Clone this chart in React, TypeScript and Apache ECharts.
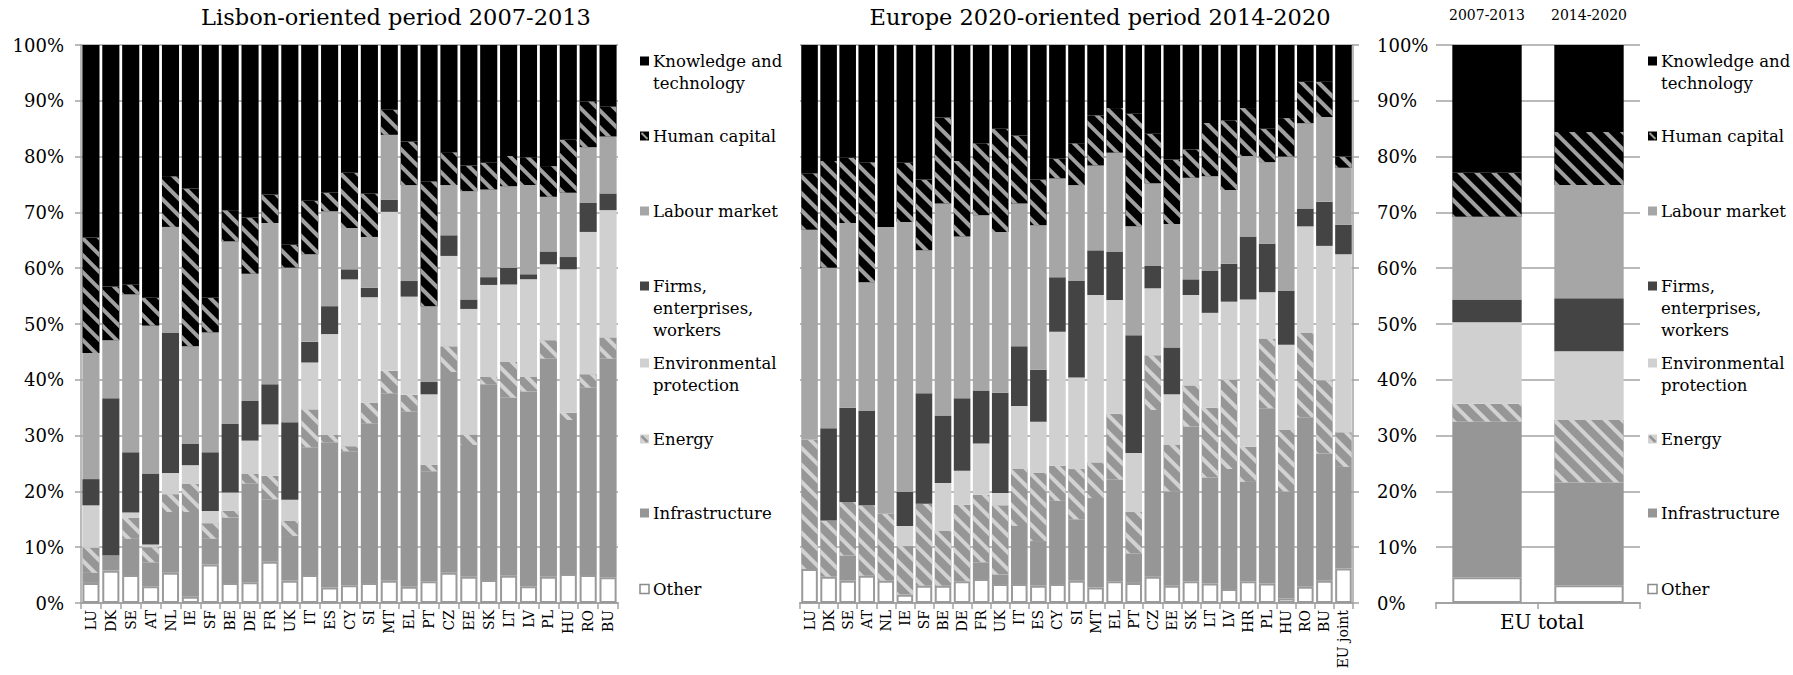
import React, { useEffect, useRef } from "react";
import * as echarts from "echarts";

// ---------- DATA ----------
const SERIES_NAMES = [
  "Other",
  "Infrastructure",
  "Energy",
  "Environmental protection",
  "Firms, enterprises, workers",
  "Labour market",
  "Human capital",
  "Knowledge and technology",
];
const LEGEND_LINES: string[][] = [
  ["Other"],
  ["Infrastructure"],
  ["Energy"],
  ["Environmental", "protection"],
  ["Firms,", "enterprises,", "workers"],
  ["Labour market"],
  ["Human capital"],
  ["Knowledge and", "technology"],
];

const TITLE_LEFT = "Lisbon-oriented period 2007-2013";
const TITLE_MID = "Europe 2020-oriented period 2014-2020";
const EU_TOTAL_LABEL = "EU total";

const Y_TICKS = [0, 10, 20, 30, 40, 50, 60, 70, 80, 90, 100];

const LISBON_COUNTRIES = ["LU","DK","SE","AT","NL","IE","SF","BE","DE","FR","UK","IT","ES","CY","SI","MT","EL","PT","CZ","EE","SK","LT","LV","PL","HU","RO","BU"];
const LISBON_OTHER = [3.6,5.8,5.0,3.0,5.4,1.1,6.9,3.6,3.7,7.4,4.0,5.0,2.8,3.2,3.6,4.0,2.9,3.9,5.4,4.7,4.1,4.9,3.0,4.7,5.2,5.0,4.6];
const LISBON_INFRA = [1.8,2.7,6.5,4.3,10.9,15.2,4.6,11.7,17.7,11.2,8.0,22.9,26.0,24.0,28.6,33.6,31.4,19.7,36.0,23.6,35.1,31.9,34.9,39.1,27.6,33.6,39.2];
const LISBON_ENERGY = [4.5,0,3.8,2.7,3.2,5.1,2.8,1.2,1.8,4.2,2.7,6.8,1.3,0.9,3.7,4.0,3.0,1.2,4.6,1.9,1.3,6.4,2.6,3.3,1.3,2.4,3.8];
const LISBON_ENV = [7.6,0,0.9,0.5,3.8,3.3,2.2,3.3,5.9,9.2,3.8,8.4,18.1,29.9,18.9,28.5,17.6,12.6,16.2,22.5,16.5,13.9,17.5,13.6,25.7,25.5,22.8];
const LISBON_FIRMS = [4.7,28.2,10.8,12.7,25.1,3.8,10.5,12.3,7.1,7.2,13.9,3.7,5.0,1.8,1.7,2.2,2.8,2.2,3.7,1.7,1.4,3.0,0.9,2.3,2.2,5.2,3.0];
const LISBON_LABOUR = [22.6,10.4,28.3,26.5,19.0,17.5,21.5,32.7,22.8,28.9,27.7,15.7,17.0,7.4,9.1,11.6,17.2,13.6,9.0,19.4,15.7,14.6,16.0,9.8,11.5,10.0,10.2];
const LISBON_HUMAN = [20.7,9.6,1.8,5.0,9.1,28.3,6.2,5.6,10.1,5.1,4.1,9.6,3.3,9.9,7.8,4.5,7.8,22.4,5.9,4.6,4.8,5.4,5.0,5.5,9.5,8.2,5.4];
const LISBON_KNOW = [34.5,43.3,42.9,45.3,23.5,25.7,45.3,29.6,30.9,26.8,35.8,27.9,26.5,22.9,26.6,11.6,17.3,24.4,19.2,21.6,21.1,19.9,20.1,21.7,17.0,10.1,11.0];

const E2020_COUNTRIES = ["LU","DK","SE","AT","NL","IE","SF","BE","DE","FR","UK","IT","ES","CY","SI","MT","EL","PT","CZ","EE","SK","LT","LV","HR","PL","HU","RO","BU","EU joint"];
const E2020_OTHER = [6.1,4.7,4.0,4.9,4.0,1.5,3.1,3.1,3.9,4.3,3.4,3.4,3.1,3.4,4.0,2.8,3.9,3.6,4.7,3.1,3.9,3.5,2.5,3.9,3.5,0.8,2.9,4.0,6.2];
const E2020_INFRA = [0,0,4.5,0,0,0,0,0,0,3.0,1.7,10.4,8.0,14.9,11.0,16.0,18.2,5.3,29.9,16.9,27.7,19.0,21.5,17.8,31.4,19.2,30.4,22.8,18.2];
const E2020_ENERGY = [23.2,10.1,9.6,12.6,12.0,8.7,14.7,9.8,13.7,12.1,12.4,10.2,12.2,6.3,9.0,6.4,11.8,7.4,9.8,8.4,7.4,12.5,16.0,6.3,12.5,11.0,15.1,13.1,6.2];
const E2020_ENV = [0,0,0,0,0,3.6,0,8.6,6.1,9.2,2.2,11.3,9.2,24.0,16.4,30.0,20.4,10.6,12.0,9.0,16.2,17.0,14.0,26.4,8.3,15.3,19.1,24.1,31.9];
const E2020_FIRMS = [0,16.5,16.9,16.9,0,6.1,19.8,12.1,13.0,9.5,18.0,10.7,9.3,9.8,17.3,8.0,8.6,21.1,4.0,8.4,2.8,7.5,6.8,11.3,8.7,9.6,3.2,7.9,5.3];
const E2020_LABOUR = [37.6,28.8,33.1,23.1,51.4,48.4,25.6,38.0,29.0,31.4,28.8,25.6,25.9,17.7,17.2,15.2,17.8,19.5,14.8,22.1,18.2,17.0,13.2,14.4,14.6,24.1,15.3,15.2,10.2];
const E2020_HUMAN = [10.1,19.1,11.7,21.5,0,10.6,12.7,15.4,13.5,12.9,18.5,12.2,8.2,3.5,7.5,9.0,8.0,20.2,8.9,11.6,5.1,9.5,12.5,8.6,6.0,6.9,7.4,6.3,2.0];
const E2020_KNOW = [23.0,20.8,20.2,21.0,32.6,21.1,24.1,13.0,20.8,17.6,15.0,16.2,24.1,20.4,17.6,12.6,11.3,12.3,15.9,20.5,18.7,14.0,13.5,11.3,15.0,13.1,6.6,6.6,20.0];

const EU_PERIODS = ["2007-2013", "2014-2020"];
const EU_OTHER = [4.6, 3.2];
const EU_INFRA = [27.9, 18.4];
const EU_ENERGY = [3.2, 11.2];
const EU_ENV = [14.6, 12.3];
const EU_FIRMS = [4.1, 9.5];
const EU_LABOUR = [14.8, 20.3];
const EU_HUMAN = [7.9, 9.5];
const EU_KNOW = [22.9, 15.6];

const LISBON_SERIES = [LISBON_OTHER, LISBON_INFRA, LISBON_ENERGY, LISBON_ENV, LISBON_FIRMS, LISBON_LABOUR, LISBON_HUMAN, LISBON_KNOW];
const E2020_SERIES = [E2020_OTHER, E2020_INFRA, E2020_ENERGY, E2020_ENV, E2020_FIRMS, E2020_LABOUR, E2020_HUMAN, E2020_KNOW];
const EU_SERIES = [EU_OTHER, EU_INFRA, EU_ENERGY, EU_ENV, EU_FIRMS, EU_LABOUR, EU_HUMAN, EU_KNOW];

// ---------- STYLE ----------
const FONT = "DejaVu Serif";
const GRID_GRAY = "#a3a3a3";

const itemStyles: any[] = [
  { color: "#ffffff", borderColor: "#9a9a9a", borderWidth: 2 },
  { color: "#969696" },
  {
    color: "#969696",
    decal: { symbol: "rect", symbolSize: 1, dashArrayX: [1, 0], dashArrayY: [4, 7.5], rotation: Math.PI / 4, color: "#d2d2d2" },
  },
  { color: "#d0d0d0" },
  { color: "#444444" },
  { color: "#a6a6a6" },
  {
    color: "#000000",
    decal: { symbol: "rect", symbolSize: 1, dashArrayX: [1, 0], dashArrayY: [3.5, 8], rotation: Math.PI / 4, color: "#a0a0a0" },
  },
  { color: "#000000" },
];

const PLOT_TOP = 45;
const PLOT_H = 558;

function buildOption() {
  const grids = [
    { left: 81, top: PLOT_TOP, width: 537, height: PLOT_H },
    { left: 800, top: PLOT_TOP, width: 553, height: PLOT_H },
    { left: 1436, top: PLOT_TOP, width: 204, height: PLOT_H },
  ];

  const catAxisBase = {
    type: "category",
    axisLine: { show: true, lineStyle: { color: GRID_GRAY, width: 2 } },
    axisTick: { show: true, length: 6, lineStyle: { color: GRID_GRAY, width: 1.5 } },
  };

  const xAxis: any[] = [
    {
      ...catAxisBase,
      gridIndex: 0,
      data: LISBON_COUNTRIES,
      axisLabel: { rotate: 90, interval: 0, fontFamily: FONT, fontSize: 14, color: "#000", margin: 7 },
    },
    {
      ...catAxisBase,
      gridIndex: 1,
      data: E2020_COUNTRIES,
      axisLabel: { rotate: 90, interval: 0, fontFamily: FONT, fontSize: 14, color: "#000", margin: 7 },
    },
    {
      ...catAxisBase,
      gridIndex: 2,
      data: EU_PERIODS,
      axisLabel: { show: false },
    },
    {
      type: "category",
      gridIndex: 2,
      position: "top",
      data: EU_PERIODS,
      axisLine: { show: false },
      axisTick: { show: false },
      axisLabel: { interval: 0, fontFamily: FONT, fontSize: 14, color: "#000", margin: 23 },
    },
  ];

  const valAxisBase = {
    type: "value",
    min: Y_TICKS[0],
    max: Y_TICKS[Y_TICKS.length - 1],
    interval: Y_TICKS[1] - Y_TICKS[0],
    splitLine: { show: true, lineStyle: { color: GRID_GRAY, width: 1.5 } },
  };

  const yAxis: any[] = [
    {
      ...valAxisBase,
      gridIndex: 0,
      position: "left",
      axisLine: { show: true, lineStyle: { color: GRID_GRAY, width: 1.5 } },
      axisTick: { show: true, length: 6, lineStyle: { color: GRID_GRAY, width: 1.5 } },
      axisLabel: { formatter: "{value}%", fontFamily: FONT, fontSize: 18, color: "#000", margin: 17 },
    },
    {
      ...valAxisBase,
      gridIndex: 1,
      position: "right",
      axisLine: { show: true, lineStyle: { color: GRID_GRAY, width: 1.5 } },
      axisTick: { show: true, length: 6, lineStyle: { color: GRID_GRAY, width: 1.5 } },
      axisLabel: { formatter: "{value}%", fontFamily: FONT, fontSize: 18, color: "#000", margin: 24 },
    },
    {
      ...valAxisBase,
      gridIndex: 2,
      position: "left",
      axisLine: { show: false },
      axisTick: { show: false },
      axisLabel: { show: false },
    },
  ];

  const series: any[] = [];
  const panels = [
    { data: LISBON_SERIES, barWidth: "86%" },
    { data: E2020_SERIES, barWidth: "87%" },
    { data: EU_SERIES, barWidth: "68%" },
  ];
  panels.forEach((p, pi) => {
    p.data.forEach((vals, si) => {
      series.push({
        type: "bar",
        name: SERIES_NAMES[si],
        stack: "panel" + pi,
        xAxisIndex: pi,
        yAxisIndex: pi,
        barWidth: p.barWidth,
        data: vals,
        itemStyle: itemStyles[si],
        emphasis: { disabled: true },
      });
    });
  });

  // Legends (drawn as graphics, top-to-bottom order = reversed stack)
  const legendSlotsY = [61, 136, 211, 286, 363, 439, 513, 589];
  const graphic: any[] = [];
  const legendXs = [
    { sq: 640, tx: 653 },
    { sq: 1648, tx: 1661 },
  ];
  legendXs.forEach((lx) => {
    for (let k = 0; k < SERIES_NAMES.length; k++) {
      const si = SERIES_NAMES.length - 1 - k;
      const y = legendSlotsY[k];
      const st = itemStyles[si];
      const sqSize = 9;
      const sy = y - 4.5;
      if (si === 0) {
        graphic.push({ type: "rect", shape: { x: lx.sq, y: sy, width: sqSize, height: sqSize }, style: { fill: "#fff", stroke: "#8a8a8a", lineWidth: 1.5 } });
      } else if (si === 2) {
        graphic.push({ type: "rect", shape: { x: lx.sq, y: sy, width: sqSize, height: sqSize }, style: { fill: "#d2d2d2" } });
        graphic.push({ type: "line", shape: { x1: lx.sq + 1.5, y1: sy + 1.5, x2: lx.sq + sqSize - 1.5, y2: sy + sqSize - 1.5 }, style: { stroke: "#969696", lineWidth: 2.5 } });
      } else if (si === 6) {
        graphic.push({ type: "rect", shape: { x: lx.sq, y: sy, width: sqSize, height: sqSize }, style: { fill: "#000" } });
        graphic.push({ type: "line", shape: { x1: lx.sq + 1.5, y1: sy + 1.5, x2: lx.sq + sqSize - 1.5, y2: sy + sqSize - 1.5 }, style: { stroke: "#a0a0a0", lineWidth: 2 } });
      } else {
        graphic.push({ type: "rect", shape: { x: lx.sq, y: sy, width: sqSize, height: sqSize }, style: { fill: st.color } });
      }
      graphic.push({
        type: "text",
        x: lx.tx,
        y: y - 11,
        style: {
          text: LEGEND_LINES[si].join("\n"),
          font: `16.5px "${FONT}"`,
          fill: "#000",
          lineHeight: 22,
          verticalAlign: "top",
        },
      });
    }
  });

  graphic.push({
    type: "text",
    x: 396,
    y: 17,
    style: { text: TITLE_LEFT, font: `22.5px "${FONT}"`, fill: "#000", align: "center", verticalAlign: "middle" },
  });
  graphic.push({
    type: "text",
    x: 1100,
    y: 17,
    style: { text: TITLE_MID, font: `22.5px "${FONT}"`, fill: "#000", align: "center", verticalAlign: "middle" },
  });
  graphic.push({
    type: "text",
    x: 1542,
    y: 622,
    style: { text: EU_TOTAL_LABEL, font: `20px "${FONT}"`, fill: "#000", align: "center", verticalAlign: "middle" },
  });

  return {
    animation: false,
    backgroundColor: "#ffffff",
    textStyle: { fontFamily: FONT },
    grid: grids,
    xAxis,
    yAxis,
    series,
    graphic,
  };
}

export default function App() {
  const ref = useRef<HTMLDivElement>(null);
  useEffect(() => {
    if (!ref.current) return;
    const chart = echarts.init(ref.current, undefined, { renderer: "svg" });
    chart.setOption(buildOption() as any);
    return () => chart.dispose();
  }, []);
  return (
    <div
      ref={ref}
      style={{ position: "fixed", left: 0, top: 0, width: 1793, height: 675, background: "#fff" }}
    />
  );
}
